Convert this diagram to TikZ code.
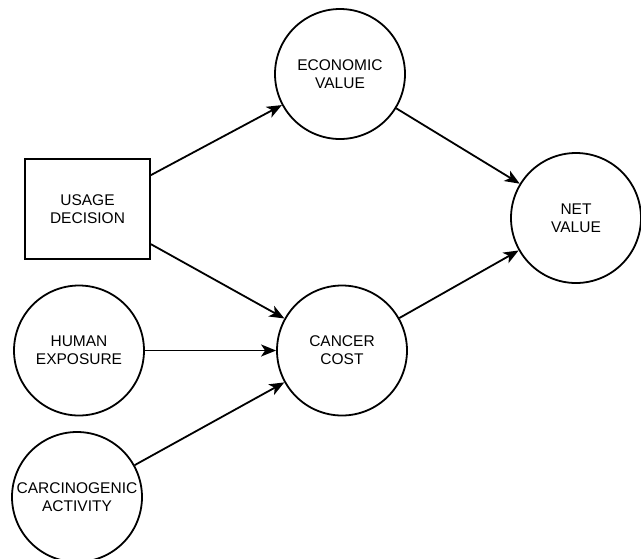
\documentclass[tikz,border=0pt]{standalone}
\usepackage{fontspec}
\setmainfont{Liberation Sans}
\usetikzlibrary{shapes,arrows.meta}

\begin{document}
\begin{tikzpicture}
		[x=1pt,y=-1pt,-,line width=1.8pt,every node/.style={draw,line width=1.8pt,
			align=center,font=\fontsize{15.5}{18}\selectfont},
		chance/.style={shape=circle,minimum size=130pt,inner sep=0pt},
		decision/.style={shape=rectangle,minimum width=125pt,minimum height=100pt}]
		\useasboundingbox (0,0) rectangle (641,558);
		\node[decision] (usage) at (87.5,209) {USAGE\\DECISION};
		\node[chance] (econ) at (340,74) {ECONOMIC\\VALUE};
		\node[chance] (net) at (576,218) {NET\\VALUE};
		\node[chance] (exposure) at (79,350.5) {HUMAN\\EXPOSURE};
		\node[chance] (cancer) at (342,350.5) {CANCER\\COST};
		\node[chance] (carcino) at (77,497) {CARCINOGENIC\\ACTIVITY};
		%%
		\path
		\foreach \startNode/\endNode in {usage/econ,usage/cancer,exposure/cancer,
			carcino/cancer,econ/net,cancer/net}
		{
			(\startNode) edge[-{Stealth[length=15pt,width=12pt,inset=4pt]}] (\endNode)
		};
		\end{tikzpicture}
\end{document}
